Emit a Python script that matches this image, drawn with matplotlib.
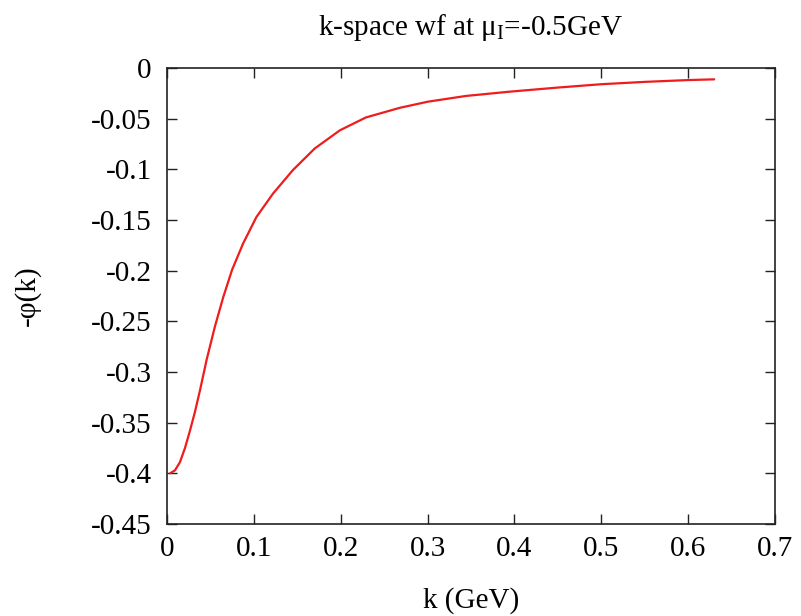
import matplotlib
matplotlib.use("Agg")
import matplotlib.pyplot as plt

plt.rcParams['font.family'] = ['Liberation Serif', 'DejaVu Serif']
plt.rcParams['mathtext.fontset'] = 'custom'
plt.rcParams['mathtext.rm'] = 'Liberation Serif'
plt.rcParams['mathtext.it'] = 'Liberation Serif:italic'

k_vals = [0.0035, 0.0092, 0.0149, 0.0207, 0.0264, 0.032, 0.038, 0.0456, 0.0552, 0.0648,
          0.075, 0.0877, 0.103, 0.122, 0.145, 0.170, 0.199, 0.229, 0.268, 0.300,
          0.344, 0.394, 0.450, 0.500, 0.550, 0.600, 0.630]
phi_vals = [-0.400, -0.397, -0.389, -0.375, -0.358, -0.340, -0.318, -0.288, -0.255, -0.226,
            -0.199, -0.173, -0.147, -0.124, -0.1007, -0.0795, -0.0615, -0.0488, -0.0393, -0.0333,
            -0.0276, -0.0234, -0.0193, -0.0160, -0.0137, -0.0119, -0.0112]

x_ticks = [0, 0.1, 0.2, 0.3, 0.4, 0.5, 0.6, 0.7]
x_tick_labels = ['0', '0.1', '0.2', '0.3', '0.4', '0.5', '0.6', '0.7']
y_ticks = [0, -0.05, -0.1, -0.15, -0.2, -0.25, -0.3, -0.35, -0.4, -0.45]
y_tick_labels = ['0', '-0.05', '-0.1', '-0.15', '-0.2', '-0.25', '-0.3', '-0.35', '-0.4', '-0.45']

fig = plt.figure(figsize=(8.01, 6.16), dpi=100)
ax = fig.add_axes([167/801, 1-524/616, 608/801, 456/616])
ax.plot(k_vals, phi_vals, color='#ee1c1c', lw=1.6, solid_joinstyle='round',
        solid_capstyle='round')
ax.set_xlim(0, 0.7)
ax.set_ylim(-0.45, 0)
ax.set_xticks(x_ticks)
ax.set_xticklabels(x_tick_labels)
ax.set_yticks(y_ticks)
ax.set_yticklabels(y_tick_labels)
ax.tick_params(direction='in', length=7, width=1, top=True, right=True,
               labelsize=21, colors='#222222', labelcolor='black')
ax.tick_params(axis='y', pad=11)
ax.tick_params(axis='x', pad=9)
for s in ax.spines.values():
    s.set_linewidth(1.2)
    s.set_color('#222222')
ax.set_xlabel('k (GeV)', fontsize=21, labelpad=18)
ax.set_ylabel('-φ(k)', fontsize=21, labelpad=36)
ax.set_title('k-space wf at μ$_\\mathrm{I}$=-0.5GeV', fontsize=21, pad=24)
fig.savefig('out.png', dpi=100)
